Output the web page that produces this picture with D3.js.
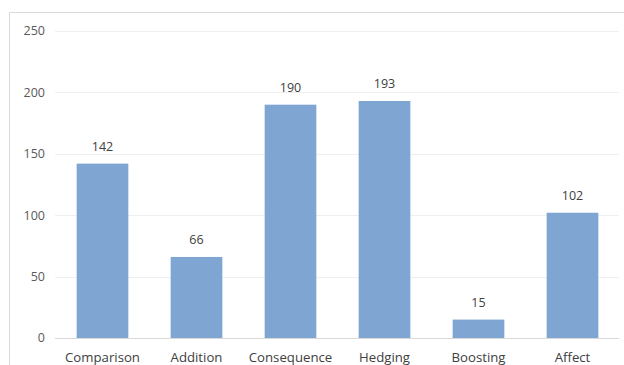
<!DOCTYPE html>
<html><head><meta charset="utf-8">
<script src="https://cdn.jsdelivr.net/npm/d3@7/dist/d3.min.js"></script>
<style>body{margin:0;background:#fff}svg{display:block}</style>
</head><body>
<script>
const categories = ["Comparison","Addition","Consequence","Hedging","Boosting","Affect"];
const values = [142, 66, 190, 193, 15, 102];
const yTicks = [0, 50, 100, 150, 200, 250];

const W = 624, H = 365;
const svg = d3.select("body").append("svg").attr("width", W).attr("height", H);
const font = "'Open Sans', 'Noto Sans', sans-serif";

// frame
svg.append("path").attr("d", `M9.5,${H} V12.5 H${W}`).attr("fill","none").attr("stroke","#d9d9d9").attr("stroke-width",1);

const x = d3.scaleBand().domain(categories).range([55.5, 619.5]).paddingInner(0.45).paddingOuter(0.225);
const y = d3.scaleLinear().domain([0, 250]).range([338, 31]);

// grid
svg.append("g").selectAll("line").data(yTicks.filter(t => t > 0)).join("line")
  .attr("x1", 55).attr("x2", 619)
  .attr("y1", d => Math.round(y(d)) + 0.5).attr("y2", d => Math.round(y(d)) + 0.5)
  .attr("stroke", "#efefef").attr("stroke-width", 1);

// y tick labels
svg.append("g").selectAll("text").data(yTicks).join("text")
  .attr("x", 45).attr("y", d => y(d)).attr("dy", "0.35em")
  .attr("text-anchor", "end").attr("font-family", font).attr("font-size", 12.5)
  .attr("fill", "#595959").text(d => d);

// bars
svg.append("g").selectAll("rect").data(values).join("rect")
  .attr("x", (d, i) => x(categories[i])).attr("width", x.bandwidth())
  .attr("y", d => y(d)).attr("height", d => y(0) - y(d))
  .attr("fill", "#7fa6d2");

// baseline
svg.append("line").attr("x1", 55).attr("x2", 619).attr("y1", 338.5).attr("y2", 338.5)
  .attr("stroke", "#d9d9d9").attr("stroke-width", 1);

// value labels
svg.append("g").selectAll("text").data(values).join("text")
  .attr("x", (d, i) => x(categories[i]) + x.bandwidth() / 2)
  .attr("y", d => y(d) - 17).attr("dy", "0.35em")
  .attr("text-anchor", "middle").attr("font-family", font).attr("font-size", 12.5)
  .attr("fill", "#404040").text(d => d);

// category labels
svg.append("g").selectAll("text").data(categories).join("text")
  .attr("x", d => x(d) + x.bandwidth() / 2).attr("y", 357).attr("dy", "0.35em")
  .attr("text-anchor", "middle").attr("font-family", font).attr("font-size", 13.2)
  .attr("fill", "#404040").text(d => d);
</script>
</body></html>
